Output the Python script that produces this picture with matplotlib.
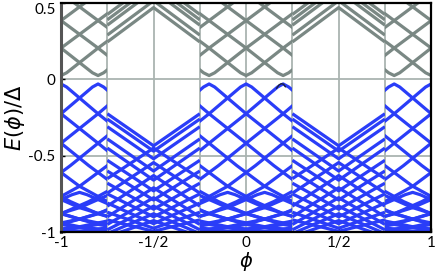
import matplotlib
matplotlib.use("Agg")
import matplotlib.pyplot as plt
from matplotlib.patches import Rectangle
from matplotlib.ticker import FixedLocator

plt.rcParams["font.family"] = ["Lato", "DejaVu Sans"]

gray = "#7a8884"
blue = "#2a3df8"
grid_c = "#aab4b1"

x_min, x_max = -1.0, 1.0
y_min, y_max = -1.0, 0.5

# windows: "diamond" windows centred on 0 and +-1, "V" windows centred on +-1/2
diamond_centres = [-1.0, 0.0, 1.0]
v_centres = [-0.5, 0.5]
half_width = 0.25

# diamond windows: blue branches share one tent profile,
# with their tops at these phase offsets from the window centre
blue_tops = [-1.4, -1.2, -1.0, -0.8, -0.6, -0.4, -0.2, 0.0, 0.2, 0.4, 0.6, 0.8, 1.0, 1.2, 1.4]
tent_d = [0.0, 0.03, 0.2, 0.4, 0.55, 0.7, 0.85, 1.0, 1.2, 1.5]
tent_e = [-0.030, -0.050, -0.225, -0.418, -0.565, -0.700, -0.800, -0.880, -0.950, -1.010]
# flatter deep branches near the gap edge
deep_tops = [-0.9, -0.7, -0.5, -0.3, -0.1, 0.1, 0.3, 0.5, 0.7, 0.9]
deep_d = [0.0, 0.04, 0.2, 0.4, 0.6, 0.9]
deep_e = [-0.740, -0.755, -0.840, -0.915, -0.965, -1.010]
# gray branches: valleys at these offsets, common profile
gray_valleys = [-0.8, -0.6, -0.4, -0.2, 0.0, 0.2, 0.4, 0.6, 0.8]
vee_d = [0.0, 0.03, 0.2, 0.4, 0.6, 0.8]
vee_e = [0.025, 0.043, 0.205, 0.385, 0.565, 0.745]

# V windows: energy at the window edge and at the window centre
v_phi = [-0.25, 0.0, 0.25]
gray_v_edge = [0.245, 0.290, 0.355, 0.390, 0.425]
gray_v_mid = [0.470, 0.515, 0.580, 0.615, 0.650]
blue_v_edge = [-0.225, -0.260, -0.310, -0.390, -0.450, -0.530, -0.600, -0.680, -0.750, -0.810, -0.870, -0.920]
blue_v_mid = [-0.435, -0.470, -0.520, -0.600, -0.660, -0.730, -0.790, -0.850, -0.900, -0.945, -0.975, -0.995]
blue_l_edge = [-0.650, -0.745, -0.830, -0.900, -0.950, -0.985, -1.010, -1.030]
blue_l_mid = [-0.450, -0.545, -0.630, -0.710, -0.775, -0.830, -0.880, -0.925]

# small dark glitch near phi = 0.19
glitch_phi = [0.165, 0.178, 0.19, 0.202, 0.212]
glitch_e = [-0.058, -0.036, -0.028, -0.032, -0.048]

fig = plt.figure(figsize=(4.36, 2.74), dpi=100)
ax = fig.add_axes([0.140, 0.153, 0.849, 0.836])

lw = 2.3


def window_line(c, xs, ys, col):
    ln, = ax.plot(xs, ys, color=col, lw=lw, solid_capstyle="butt")
    x0 = max(c - half_width, x_min)
    x1 = min(c + half_width, x_max)
    clip = Rectangle((x0, y_min), x1 - x0, y_max - y_min, transform=ax.transData)
    ln.set_clip_path(clip)


def mirrored(top, d_list, e_list):
    xs = [top - d for d in d_list[::-1]] + [top + d for d in d_list[1:]]
    return xs, e_list[::-1] + e_list[1:]


for c in diamond_centres:
    for t in blue_tops:
        xs, ys = mirrored(c + t, tent_d, tent_e)
        window_line(c, xs, ys, blue)
    for t in deep_tops:
        xs, ys = mirrored(c + t, deep_d, deep_e)
        window_line(c, xs, ys, blue)
    for v in gray_valleys:
        xs, ys = mirrored(c + v, vee_d, vee_e)
        window_line(c, xs, ys, gray)

for c in v_centres:
    xs = [c + p for p in v_phi]
    for e, m in zip(gray_v_edge, gray_v_mid):
        window_line(c, xs, [e, m, e], gray)
    for e, m in zip(blue_v_edge, blue_v_mid):
        window_line(c, xs, [e, m, e], blue)
    for e, m in zip(blue_l_edge, blue_l_mid):
        window_line(c, xs, [e, m, e], blue)

ax.plot(glitch_phi, glitch_e, color="#1a1f40", lw=1.0)

ax.set_xlim(x_min, x_max)
ax.set_ylim(y_min, y_max)
ax.xaxis.set_major_locator(FixedLocator([-1, -0.5, 0, 0.5, 1]))
ax.xaxis.set_minor_locator(FixedLocator([-0.75, -0.25, 0.25, 0.75]))
ax.set_xticklabels(["-1", "-1/2", "0", "1/2", "1"])
ax.set_yticks([-1, -0.5, 0, 0.5])
ax.set_yticklabels(["-1", "-0.5", "0", "0.5"])
ax.yaxis.get_majorticklabels()[3].set_va("top")
ax.grid(True, which="both", axis="x", color=grid_c, lw=1.3, zorder=0)
ax.grid(True, which="major", axis="y", color=grid_c, lw=1.3, zorder=0)
ax.set_axisbelow(True)
ax.tick_params(which="both", direction="in", length=3, width=1, labelsize=11, pad=4)
ax.tick_params(axis="x", pad=2.5)
ax.tick_params(which="minor", length=0)

for s in ax.spines.values():
    s.set_linewidth(1.6)
    s.set_color("black")
ax.spines["left"].set_color("#555555")
ax.spines["left"].set_linewidth(2.2)

ax.set_xlabel(r"$\phi$", fontsize=14, labelpad=0)
ax.set_ylabel(r"$E(\phi)/\Delta$", fontsize=15, labelpad=1)

fig.savefig("out.png", dpi=100)
